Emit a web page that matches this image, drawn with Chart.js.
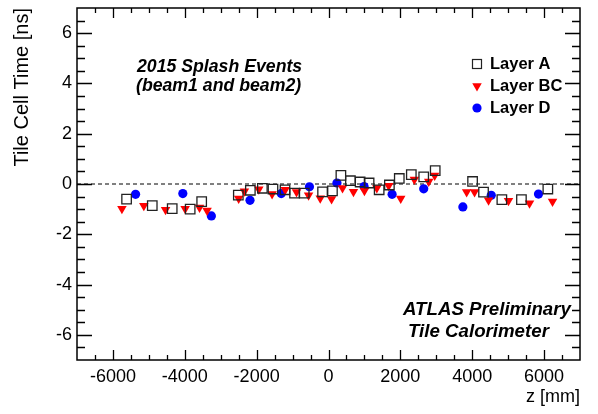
<!DOCTYPE html>
<html>
<head>
<meta charset="utf-8">
<script src="https://cdn.jsdelivr.net/npm/chart.js@4.4.1/dist/chart.umd.min.js"></script>
<style>
  body { margin: 0; background: #fff; }
</style>
</head>
<body>
<canvas id="timeChart" width="598" height="414"></canvas>
<script>
// Layer A (open squares)
const layerAZ = [-5620, -4905, -4350, -3850, -3530, -2510, -2175, -1840, -1545, -1210, -945, -675, -165, 110, 345, 610, 880, 1130, 1410, 1695, 1970, 2305, 2650, 2970, 4010, 4315, 4825, 5370, 6105];
const layerATime = [-0.60, -0.86, -0.98, -1.00, -0.70, -0.44, -0.25, -0.17, -0.20, -0.23, -0.36, -0.36, -0.31, -0.27, 0.34, 0.13, 0.08, 0.04, -0.23, -0.04, 0.22, 0.37, 0.28, 0.53, 0.10, -0.32, -0.62, -0.62, -0.20];

// Layer BC (red triangles)
const layerBCZ = [-5750, -5140, -4535, -3990, -3590, -3380, -2500, -2340, -1940, -1570, -1205, -890, -555, -230, 85, 390, 695, 1000, 1345, 1675, 2010, 2390, 2790, 2955, 3845, 4065, 4455, 5010, 5595, 6235];
const layerBCTime = [-0.98, -0.87, -1.02, -0.98, -0.93, -1.05, -0.58, -0.29, -0.21, -0.40, -0.23, -0.32, -0.45, -0.57, -0.60, -0.16, -0.31, -0.27, -0.16, -0.07, -0.58, 0.18, 0.10, 0.34, -0.32, -0.32, -0.65, -0.67, -0.77, -0.70];

// Layer D (blue circles)
const layerDZ = [-5370, -4055, -3260, -2185, -1315, -530, 235, 990, 1770, 2650, 3740, 4530, 5845];
const layerDTime = [-0.41, -0.38, -1.27, -0.65, -0.38, -0.11, 0.04, -0.10, -0.41, -0.19, -0.91, -0.45, -0.40];

// tick labels
const zTicks = [-6000, -4000, -2000, 0, 2000, 4000, 6000];
const timeTicks = [-6, -4, -2, 0, 2, 4, 6];

const FONT = '"Liberation Sans", Arial, sans-serif';

function toPoints(xs, ys) {
  return xs.map((x, i) => ({ x: x, y: ys[i] }));
}

// frame, inward ticks, dashed zero line, legend and labels (ROOT look)
const rootStyle = {
  id: 'rootStyle',
  beforeDatasetsDraw(chart) {
    const ctx = chart.ctx;
    const a = chart.chartArea;
    const y0 = chart.scales.y.getPixelForValue(0);
    ctx.save();
    ctx.strokeStyle = '#000';
    ctx.lineWidth = 1;
    ctx.setLineDash([4, 3]);
    ctx.beginPath();
    ctx.moveTo(a.left, y0);
    ctx.lineTo(a.right, y0);
    ctx.stroke();
    ctx.restore();
  },
  afterDraw(chart) {
    const ctx = chart.ctx;
    const a = chart.chartArea;
    const xs = chart.scales.x;
    const ys = chart.scales.y;
    ctx.save();
    ctx.strokeStyle = '#000';
    ctx.lineWidth = 1.3;

    // x ticks, every 500, major every 2000
    for (let v = -6500; v <= 6500; v += 500) {
      const px = Math.round(xs.getPixelForValue(v)) + 0.5;
      const len = (v % 2000 === 0) ? 10 : 5;
      ctx.beginPath();
      ctx.moveTo(px, a.bottom); ctx.lineTo(px, a.bottom - len);
      ctx.moveTo(px, a.top); ctx.lineTo(px, a.top + len);
      ctx.stroke();
    }
    // y ticks, every 0.5, major every 2
    for (let v = -6.5; v <= 6.5; v += 0.5) {
      const py = Math.round(ys.getPixelForValue(v)) + 0.5;
      const len = (v % 2 === 0) ? 15 : 8;
      ctx.beginPath();
      ctx.moveTo(a.left, py); ctx.lineTo(a.left + len, py);
      ctx.moveTo(a.right, py); ctx.lineTo(a.right - len, py);
      ctx.stroke();
    }
    // frame
    ctx.lineWidth = 1.5;
    ctx.strokeRect(a.left, a.top, a.right - a.left, a.bottom - a.top);

    // labels
    ctx.fillStyle = '#000';
    ctx.textBaseline = 'middle';
    ctx.textAlign = 'left';
    ctx.font = 'italic bold 17.7px ' + FONT;
    ctx.fillText('2015 Splash Events', 137, 67);
    ctx.fillText('(beam1 and beam2)', 136, 86);
    ctx.font = 'italic bold 18.7px ' + FONT;
    ctx.fillText('ATLAS Preliminary', 403, 310);
    ctx.fillText('Tile Calorimeter', 408, 332);

    // legend
    const rows = [
      { label: 'Layer A', y: 64 },
      { label: 'Layer BC', y: 86 },
      { label: 'Layer D', y: 108 }
    ];
    const mx = 477;
    ctx.font = 'bold 16.5px ' + FONT;
    rows.forEach((r, i) => {
      const ds = chart.data.datasets[i];
      ctx.lineWidth = 1.2;
      ctx.strokeStyle = ds.borderColor;
      ctx.fillStyle = ds.backgroundColor;
      if (ds.pointStyle === 'rect') {
        ctx.strokeRect(mx - 4.5, r.y - 4.5, 9, 9);
      } else {
        Chart.helpers.drawPoint(ctx, {
          pointStyle: ds.pointStyle,
          radius: ds.pointRadius,
          rotation: ds.rotation || 0,
          borderWidth: ds.borderWidth
        }, mx, r.y);
      }
      ctx.fillStyle = '#000';
      ctx.fillText(r.label, 490, r.y);
    });
    ctx.restore();
  }
};

const chart = new Chart(document.getElementById('timeChart'), {
  type: 'scatter',
  data: {
    datasets: [
      {
        label: 'Layer A',
        data: toPoints(layerAZ, layerATime),
        pointStyle: 'rect',
        pointRadius: 6.7,
        borderColor: '#222',
        backgroundColor: 'rgba(255,255,255,0)',
        borderWidth: 1.3
      },
      {
        label: 'Layer BC',
        data: toPoints(layerBCZ, layerBCTime),
        pointStyle: 'triangle',
        rotation: 180,
        pointRadius: 5.5,
        borderColor: '#ff0000',
        backgroundColor: '#ff0000',
        borderWidth: 0
      },
      {
        label: 'Layer D',
        data: toPoints(layerDZ, layerDTime),
        pointStyle: 'circle',
        pointRadius: 4.6,
        borderColor: '#0000ff',
        backgroundColor: '#0000ff',
        borderWidth: 0
      }
    ]
  },
  options: {
    responsive: false,
    animation: false,
    layout: { padding: { left: 0, right: 18, top: 8, bottom: 0 } },
    plugins: {
      legend: { display: false },
      tooltip: { enabled: false }
    },
    scales: {
      x: {
        type: 'linear',
        min: -7000,
        max: 7000,
        afterBuildTicks: s => { s.ticks = zTicks.map(v => ({ value: v })); },
        afterFit: s => { s.height = 54; s.paddingLeft = 0; s.paddingRight = 0; },
        grid: { display: false, drawTicks: false },
        border: { display: false },
        ticks: {
          color: '#000',
          font: { family: FONT, size: 18 },
          padding: 6,
          maxRotation: 0,
          callback: v => String(v)
        },
        title: {
          display: true,
          text: 'z [mm]',
          align: 'end',
          color: '#000',
          font: { family: FONT, size: 18 },
          padding: { top: 0, bottom: 6 }
        }
      },
      y: {
        type: 'linear',
        min: -7,
        max: 7,
        afterBuildTicks: s => { s.ticks = timeTicks.map(v => ({ value: v })); },
        afterFit: s => { s.width = 77; s.paddingTop = 0; s.paddingBottom = 0; },
        grid: { display: false, drawTicks: false },
        border: { display: false },
        ticks: {
          color: '#000',
          font: { family: FONT, size: 18 },
          padding: 5,
          callback: v => String(v)
        },
        title: {
          display: true,
          text: 'Tile Cell Time [ns]',
          align: 'end',
          color: '#000',
          font: { family: FONT, size: 20 },
          padding: { top: 10, bottom: 0 }
        }
      }
    }
  },
  plugins: [rootStyle]
});
</script>
</body>
</html>
